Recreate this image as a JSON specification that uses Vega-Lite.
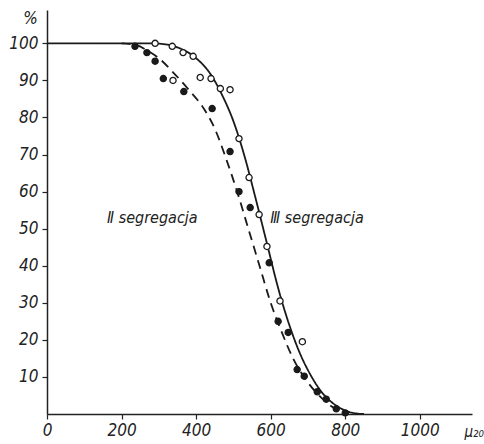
{
  "$schema": "https://vega.github.io/schema/vega-lite/v6.json",
  "width": 425,
  "height": 404,
  "autosize": {"type": "none"},
  "padding": {"left": 47, "top": 10, "right": 12, "bottom": 30},
  "background": "white",
  "config": {
    "view": {"stroke": null},
    "font": "DejaVu Sans Condensed",
    "axis": {
      "domainColor": "#222", "domainWidth": 1.5, "tickColor": "#222", "tickWidth": 1.2,
      "labelFont": "DejaVu Sans Condensed", "labelFontStyle": "italic", "labelFontSize": 17,
      "labelColor": "#222", "grid": false
    }
  },
  "datasets": {
    "curves": [
      {"s": "III", "x": 0, "y": 100}, {"s": "III", "x": 280, "y": 100}, {"s": "III", "x": 320, "y": 99.7},
      {"s": "III", "x": 360, "y": 98.5}, {"s": "III", "x": 400, "y": 96}, {"s": "III", "x": 440, "y": 91.5},
      {"s": "III", "x": 470, "y": 86}, {"s": "III", "x": 500, "y": 79}, {"s": "III", "x": 530, "y": 69.5},
      {"s": "III", "x": 560, "y": 58}, {"s": "III", "x": 590, "y": 46}, {"s": "III", "x": 620, "y": 34},
      {"s": "III", "x": 650, "y": 24}, {"s": "III", "x": 680, "y": 16}, {"s": "III", "x": 710, "y": 10},
      {"s": "III", "x": 740, "y": 5.5}, {"s": "III", "x": 780, "y": 2}, {"s": "III", "x": 820, "y": 0.3},
      {"s": "III", "x": 850, "y": 0},
      {"s": "II", "x": 200, "y": 100}, {"s": "II", "x": 240, "y": 99.5}, {"s": "II", "x": 270, "y": 98},
      {"s": "II", "x": 300, "y": 96}, {"s": "II", "x": 340, "y": 92}, {"s": "II", "x": 380, "y": 87.5},
      {"s": "II", "x": 420, "y": 82.5}, {"s": "II", "x": 450, "y": 77}, {"s": "II", "x": 480, "y": 69},
      {"s": "II", "x": 510, "y": 60}, {"s": "II", "x": 540, "y": 50}, {"s": "II", "x": 570, "y": 40},
      {"s": "II", "x": 600, "y": 30}, {"s": "II", "x": 630, "y": 22}, {"s": "II", "x": 660, "y": 15},
      {"s": "II", "x": 700, "y": 8.5}, {"s": "II", "x": 740, "y": 4}, {"s": "II", "x": 780, "y": 1},
      {"s": "II", "x": 810, "y": 0}
    ],
    "points": [
      {"s": "III", "x": 290, "y": 100}, {"s": "III", "x": 336, "y": 99.2}, {"s": "III", "x": 365, "y": 97.5},
      {"s": "III", "x": 392, "y": 96.5}, {"s": "III", "x": 338, "y": 90}, {"s": "III", "x": 411, "y": 90.8},
      {"s": "III", "x": 440, "y": 90.5}, {"s": "III", "x": 465, "y": 87.8}, {"s": "III", "x": 491, "y": 87.5},
      {"s": "III", "x": 515, "y": 74.3}, {"s": "III", "x": 542, "y": 63.8}, {"s": "III", "x": 569, "y": 53.8},
      {"s": "III", "x": 590, "y": 45.2}, {"s": "III", "x": 625, "y": 30.5}, {"s": "III", "x": 685, "y": 19.5},
      {"s": "II", "x": 236, "y": 99.2}, {"s": "II", "x": 268, "y": 97.5}, {"s": "II", "x": 290, "y": 95.2},
      {"s": "II", "x": 312, "y": 90.5}, {"s": "II", "x": 367, "y": 87}, {"s": "II", "x": 443, "y": 82.4},
      {"s": "II", "x": 491, "y": 70.8}, {"s": "II", "x": 515, "y": 60}, {"s": "II", "x": 545, "y": 55.7},
      {"s": "II", "x": 596, "y": 40.8}, {"s": "II", "x": 620, "y": 25}, {"s": "II", "x": 647, "y": 22},
      {"s": "II", "x": 671, "y": 12}, {"s": "II", "x": 690, "y": 10.2}, {"s": "II", "x": 725, "y": 6},
      {"s": "II", "x": 749, "y": 4}, {"s": "II", "x": 776, "y": 1.4}, {"s": "II", "x": 800, "y": 0.3}
    ],
    "labels": [
      {"label": "Ⅱ segregacja", "x": 161, "y": 53},
      {"label": "Ⅲ segregacja", "x": 599, "y": 53}
    ]
  },
  "layer": [
    {
      "data": {"name": "curves"},
      "mark": {"type": "line", "interpolate": "monotone", "strokeWidth": 1.8, "color": "#1a1a1a"},
      "encoding": {
        "x": {"field": "x", "type": "quantitative",
              "scale": {"domain": [0, 1140], "nice": false, "zero": false},
              "axis": {"values": [0, 200, 400, 600, 800, 1000], "format": "d", "tickSize": 5, "labelPadding": 3,
                       "labelFlush": false, "title": "μ₂₀", "titleFont": "DejaVu Sans Condensed",
                       "titleFontStyle": "italic", "titleFontWeight": "normal", "titleFontSize": 15,
                       "titleColor": "#222", "titleX": 417, "titleY": 17, "titleAlign": "left", "titleBaseline": "middle"}},
        "y": {"field": "y", "type": "quantitative",
              "scale": {"domain": [0, 109], "nice": false},
              "axis": {"values": [10, 20, 30, 40, 50, 60, 70, 80, 90, 100], "tickSize": 5, "labelPadding": 4,
                       "title": "%", "titleAngle": 0, "titleFont": "DejaVu Sans Condensed",
                       "titleFontStyle": "italic", "titleFontWeight": "normal", "titleFontSize": 17,
                       "titleColor": "#222", "titleX": -17, "titleY": 8, "titleAlign": "center", "titleBaseline": "middle"}},
        "detail": {"field": "s"},
        "strokeDash": {"field": "s", "type": "nominal",
                       "scale": {"domain": ["III", "II"], "range": [[1, 0], [9, 6]]}, "legend": null}
      }
    },
    {
      "data": {"name": "points"},
      "mark": {"type": "point", "shape": "circle", "size": 38, "strokeWidth": 1.3, "stroke": "#1a1a1a", "opacity": 1},
      "encoding": {
        "x": {"field": "x", "type": "quantitative"},
        "y": {"field": "y", "type": "quantitative"},
        "fill": {"field": "s", "type": "nominal",
                 "scale": {"domain": ["III", "II"], "range": ["white", "#1a1a1a"]}, "legend": null}
      }
    },
    {
      "data": {"name": "labels"},
      "mark": {"type": "text", "align": "left", "baseline": "middle", "font": "DejaVu Sans Condensed",
               "fontStyle": "italic", "fontSize": 16, "color": "#222"},
      "encoding": {
        "x": {"field": "x", "type": "quantitative"},
        "y": {"field": "y", "type": "quantitative"},
        "text": {"field": "label"}
      }
    }
  ]
}
